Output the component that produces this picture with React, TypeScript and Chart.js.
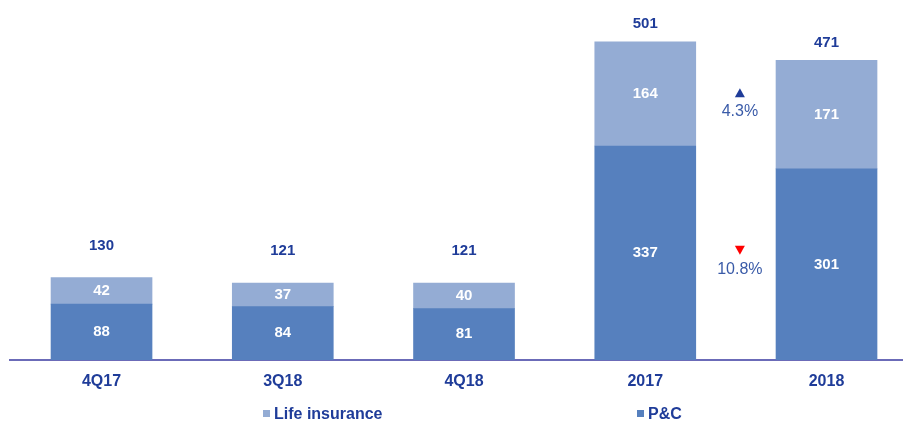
import React, { useEffect, useRef } from 'react';
import { Chart, registerables } from 'chart.js';

Chart.register(...registerables);

const categories = ['4Q17', '3Q18', '4Q18', '2017', '2018'];
const pcValues = [88, 84, 81, 337, 301];
const lifeValues = [42, 37, 40, 164, 171];
const totals = [130, 121, 121, 501, 471];
const growthLabels = ['4.3%', '10.8%'];
const growthUp = [true, false];
const growthValueAt = [391, 143];

const NAVY = '#1f3c99';
const PC_COLOR = '#5680be';
const LIFE_COLOR = '#94acd4';
const FONT = '"Liberation Sans", Arial, sans-serif';

const labelsPlugin = {
  id: 'customLabels',
  afterDatasetsDraw(chart: any) {
    const ctx = chart.ctx;
    const xs = chart.scales.x;
    const ys = chart.scales.y;
    ctx.save();
    // values inside the bars
    ctx.font = `bold 15px ${FONT}`;
    ctx.fillStyle = '#ffffff';
    ctx.textAlign = 'center';
    ctx.textBaseline = 'middle';
    chart.data.datasets.forEach((ds: any, di: number) => {
      const meta = chart.getDatasetMeta(di);
      meta.data.forEach((bar: any, i: number) => {
        const v = ds.data[i].y;
        ctx.fillText(String(v), bar.x, (bar.y + bar.base) / 2);
      });
    });
    // totals above bars
    ctx.fillStyle = NAVY;
    totals.forEach((t, i) => {
      const off = i < 3 ? 32 : 18;
      ctx.fillText(String(t), xs.getPixelForValue(i), ys.getPixelForValue(t) - off);
    });
    // growth annotations
    growthLabels.forEach((g, k) => {
      const x = xs.getPixelForValue(3.5) + 4;
      const y = ys.getPixelForValue(growthValueAt[k]);
      ctx.font = `16px ${FONT}`;
      ctx.fillStyle = '#3a5ba8';
      ctx.fillText(g, x, y);
      const ty = y - 19;
      ctx.beginPath();
      if (growthUp[k]) {
        ctx.fillStyle = '#1f3c99';
        ctx.moveTo(x - 5, ty + 4.5);
        ctx.lineTo(x + 5, ty + 4.5);
        ctx.lineTo(x, ty - 4.5);
      } else {
        ctx.fillStyle = '#ff0000';
        ctx.moveTo(x - 5, ty - 4.5);
        ctx.lineTo(x + 5, ty - 4.5);
        ctx.lineTo(x, ty + 4.5);
      }
      ctx.closePath();
      ctx.fill();
    });
    // legend
    const legendItems = [
      { label: chart.data.datasets[1].label, color: LIFE_COLOR, x: 263 },
      { label: chart.data.datasets[0].label, color: PC_COLOR, x: 637 },
    ];
    ctx.font = `bold 16px ${FONT}`;
    ctx.textAlign = 'left';
    legendItems.forEach((it) => {
      ctx.fillStyle = it.color;
      ctx.fillRect(it.x, 410, 7, 7);
      ctx.fillStyle = NAVY;
      ctx.fillText(it.label, it.x + 11, 415);
    });
    ctx.restore();
  },
};

export default function App() {
  const ref = useRef<HTMLCanvasElement>(null);
  useEffect(() => {
    document.body.style.margin = '0';
    const canvas = ref.current!;
    const chart = new Chart(canvas, {
      type: 'bar',
      data: {
        datasets: [
          {
            label: 'P&C',
            data: pcValues.map((v, i) => ({ x: i, y: v })),
            backgroundColor: PC_COLOR,
            borderWidth: 0,
            barThickness: 101,
          },
          {
            label: 'Life insurance',
            data: lifeValues.map((v, i) => ({ x: i, y: v })),
            backgroundColor: LIFE_COLOR,
            borderWidth: 0,
            barThickness: 101,
          },
        ],
      },
      options: {
        animation: false,
        responsive: false,
        layout: { padding: { left: 10, right: 0, top: 0, bottom: 0 } },
        plugins: { legend: { display: false }, tooltip: { enabled: false } },
        scales: {
          x: {
            type: 'linear',
            stacked: true,
            offset: false,
            min: -0.505,
            max: 4.422,
            grid: { display: false, drawTicks: false, offset: false },
            border: { display: true, color: '#6b6bb8', width: 2 },
            afterBuildTicks: (axis: any) => {
              axis.ticks = categories.map((_, i) => ({ value: i }));
            },
            afterFit: (axis: any) => {
              axis.height = 61;
            },
            ticks: {
              autoSkip: false,
              maxRotation: 0,
              padding: 12,
              color: NAVY,
              font: { family: FONT, size: 16, weight: 'bold' },
              callback: (v: any) => categories[v] ?? '',
            },
          },
          y: {
            display: false,
            stacked: true,
            min: 0,
            max: 567,
          },
        },
      },
      plugins: [labelsPlugin],
    } as any);
    return () => chart.destroy();
  }, []);
  return (
    <div style={{ width: 903, height: 421 }}>
      <canvas ref={ref} width={903} height={421} />
    </div>
  );
}
